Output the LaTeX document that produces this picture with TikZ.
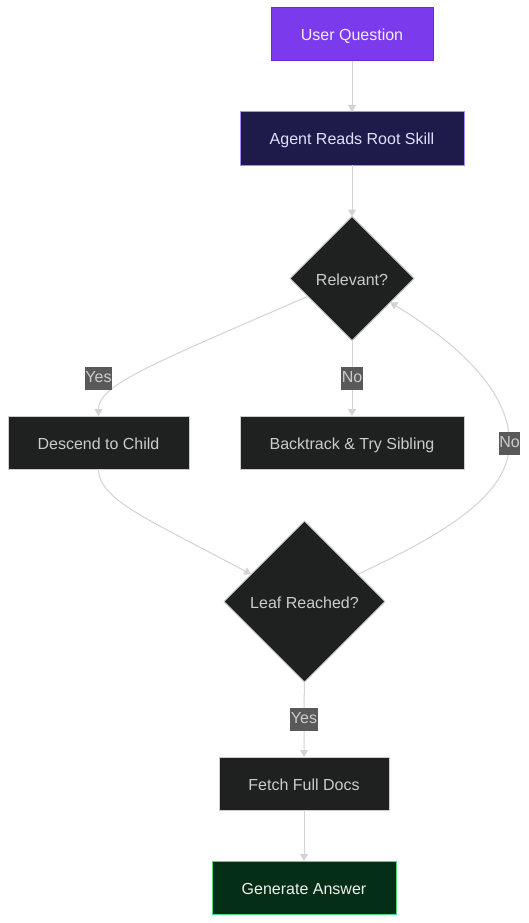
\documentclass[tikz,border=0pt]{standalone}
\usepackage{fontspec}
\setmainfont{Liberation Sans}
\usetikzlibrary{shapes.geometric,arrows.meta}
\definecolor{nodefill}{HTML}{1F2020}
\definecolor{nodeline}{HTML}{CCCCCC}
\definecolor{nodetext}{HTML}{CCCCCC}
\definecolor{edgecol}{HTML}{D3D3D3}
\definecolor{lblfill}{HTML}{595959}
\definecolor{uqfill}{HTML}{7C3AED}
\definecolor{uqline}{HTML}{6D28D9}
\definecolor{uqtext}{HTML}{F3EEFF}
\definecolor{arfill}{HTML}{1E1B4B}
\definecolor{arline}{HTML}{A78BFA}
\definecolor{artext}{HTML}{E0E0FF}
\definecolor{gafill}{HTML}{052E16}
\definecolor{galine}{HTML}{4ADE80}
\definecolor{gatext}{HTML}{F0F0F0}
\begin{document}
\begin{tikzpicture}[x=1pt,y=-1pt,
  every node/.style={font=\fontsize{16}{19}\selectfont},
  flowbox/.style={rectangle, draw=nodeline, fill=nodefill, text=nodetext, line width=1pt, inner sep=0pt, outer sep=0pt, minimum height=53pt, text height=13pt, text depth=0pt},
  dia/.style={diamond, draw=nodeline, fill=nodefill, text=nodetext, line width=1pt, inner sep=0pt, outer sep=0pt, aspect=1, text height=13pt, text depth=0pt},
  lbl/.style={fill=lblfill, text=nodetext, inner xsep=0.5pt, inner ysep=4pt, text height=11.5pt, text depth=3.5pt},
  arr/.style={draw=edgecol, line width=1pt, -{Triangle[length=7pt,width=8pt]}}]
\fill[white] (0,0) rectangle (528,923);
\useasboundingbox (0,0) rectangle (528,923);

\node[flowbox, fill=uqfill, draw=uqline, text=uqtext, minimum width=162pt] (uq) at (352,34.5) {User Question};
\node[flowbox, fill=arfill, draw=arline, text=artext, minimum width=224pt] (ar) at (352,138.5) {Agent Reads Root Skill};
\node[dia, minimum width=124pt, minimum height=124pt] (rel) at (352,278.5) {Relevant?};
\node[flowbox, minimum width=181pt] (desc) at (98.5,442.5) {Descend to Child};
\node[flowbox, minimum width=224pt] (back) at (352,442.5) {Backtrack \& Try Sibling};
\node[dia, minimum width=161pt, minimum height=161pt] (leaf) at (304.5,601.5) {Leaf Reached?};
\node[flowbox, minimum width=170pt] (fetch) at (304,783.5) {Fetch Full Docs};
\node[flowbox, fill=gafill, draw=galine, text=gatext, minimum width=184pt] (gen) at (304,887.5) {Generate Answer};

\coordinate (noR) at (509.5,443);

\draw[arr] (uq) -- (ar);
\draw[arr] (ar) -- (rel);
\draw[arr] (rel.202) .. controls (150,365) and (98.5,385) .. (desc.north);
\draw[arr] (rel) -- (back);
\draw[arr] (desc.south) .. controls (98.5,500) and (150,520) .. (leaf.153);
\draw[arr] (leaf.27) .. controls (430,540) and (509.5,500) .. (noR) .. controls (509.5,390) and (455,342) .. (rel.-32);
\draw[arr] (leaf) -- (fetch);
\draw[arr] (fetch) -- (gen);

\node[lbl] (l1) at (98.5,378.5) {Yes};
\node[lbl] (l2) at (352,378.5) {No};
\node[lbl] (l3) at (noR) {No};
\node[lbl] (l4) at (304,719.5) {Yes};
\end{tikzpicture}
\end{document}
